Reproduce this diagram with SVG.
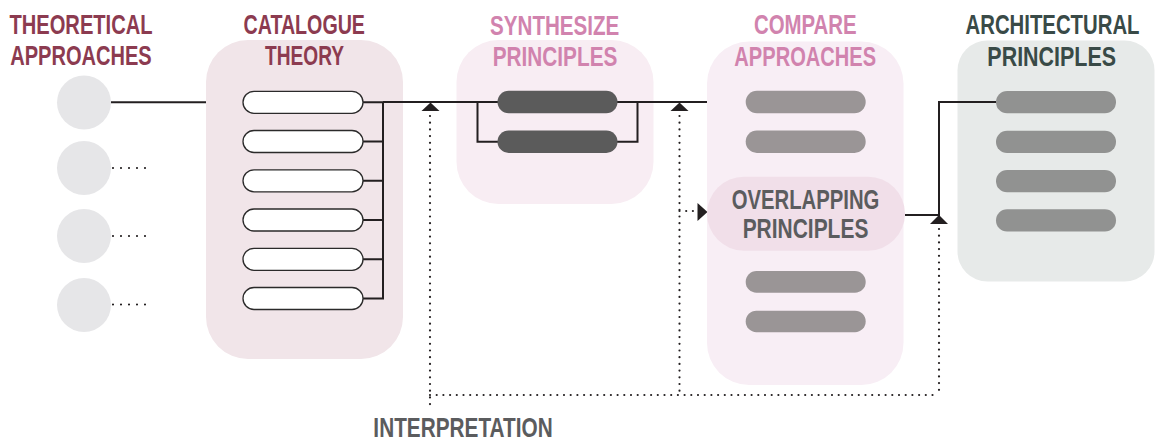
<svg xmlns="http://www.w3.org/2000/svg" width="1155" height="441" viewBox="0 0 1155 441">
  <style>
    .t { font-family: "Liberation Sans", Arial, sans-serif; font-weight: bold; font-size: 28px; text-anchor: middle; }
    .maroon { fill: #8c3b50; }
    .pink { fill: #d183ae; }
    .slate { fill: #394a47; }
    .grey { fill: #5b5c5e; }
    .src { fill: #e6e6e8; }
    .cat { fill: #ffffff; stroke: #2b2a2a; stroke-width: 1.3; }
    .syn { fill: #5b5b5b; }
    .cmp { fill: #9a9596; }
    .arc { fill: #919291; }
    .wire { fill: none; stroke: #231f20; stroke-width: 2; }
    .dots { fill: none; stroke: #231f20; stroke-width: 2.2; stroke-linecap: round; stroke-dasharray: 0 6.7; }
    .dots2 { fill: none; stroke: #231f20; stroke-width: 2.2; stroke-linecap: round; stroke-dasharray: 0 8; }
    .head { fill: #231f20; }
  </style>

  <!-- column backgrounds -->
  <rect id="catalogue-bg" x="206" y="40" width="197" height="319" rx="42" fill="#f1e5e9"/>
  <rect id="synthesize-bg" x="456.5" y="40" width="197" height="164" rx="42" fill="#f8edf3"/>
  <rect id="compare-bg" x="707" y="41.5" width="196.5" height="343.5" rx="42" fill="#f8eef5"/>
  <rect id="architectural-bg" x="957.5" y="40.5" width="197" height="241" rx="30" fill="#e7eae9"/>

  <!-- column headings: condensed by a horizontal scale of 0.73 -->
  <g id="heading-theoretical">
    <text class="t maroon" transform="translate(81 33.5) scale(0.73 1)" textLength="195.9" lengthAdjust="spacingAndGlyphs">THEORETICAL</text>
    <text class="t maroon" transform="translate(81 65) scale(0.73 1)" textLength="193.8" lengthAdjust="spacingAndGlyphs">APPROACHES</text>
  </g>
  <g id="heading-catalogue">
    <text class="t maroon" transform="translate(304.2 33.5) scale(0.73 1)" textLength="166.4" lengthAdjust="spacingAndGlyphs">CATALOGUE</text>
    <text class="t maroon" transform="translate(304.5 65) scale(0.73 1)" textLength="108.2" lengthAdjust="spacingAndGlyphs">THEORY</text>
  </g>
  <g id="heading-synthesize">
    <text class="t pink" transform="translate(554.7 34.5) scale(0.73 1)" textLength="177.1" lengthAdjust="spacingAndGlyphs">SYNTHESIZE</text>
    <text class="t pink" transform="translate(555 66) scale(0.73 1)" textLength="170.8" lengthAdjust="spacingAndGlyphs">PRINCIPLES</text>
  </g>
  <g id="heading-compare">
    <text class="t pink" transform="translate(805.3 34.3) scale(0.73 1)" textLength="140.7" lengthAdjust="spacingAndGlyphs">COMPARE</text>
    <text class="t pink" transform="translate(805.2 65.7) scale(0.73 1)" textLength="194.1" lengthAdjust="spacingAndGlyphs">APPROACHES</text>
  </g>
  <g id="heading-architectural">
    <text class="t slate" transform="translate(1052.5 34.3) scale(0.73 1)" textLength="238.4" lengthAdjust="spacingAndGlyphs">ARCHITECTURAL</text>
    <text class="t slate" transform="translate(1051.7 65.7) scale(0.73 1)" textLength="176.3" lengthAdjust="spacingAndGlyphs">PRINCIPLES</text>
  </g>

  <!-- connectors -->
  <g id="connectors">
    <!-- approach 1 into catalogue -->
    <line class="wire" x1="111" y1="102.3" x2="206" y2="102.3"/>
    <!-- other approaches (dotted) -->
    <line class="dots2" x1="113" y1="168" x2="153" y2="168"/>
    <line class="dots2" x1="113" y1="236" x2="153" y2="236"/>
    <line class="dots2" x1="113" y1="304.5" x2="153" y2="304.5"/>
    <!-- catalogue bus -->
    <path class="wire" d="M363 102.3 H383 M383 102.3 V298.5 M363 141.5 H383 M363 180.8 H383 M363 220 H383 M363 259.3 H383 M363 298.5 H384"/>
    <!-- main line into compare -->
    <line class="wire" x1="383" y1="102" x2="707" y2="102"/>
    <!-- synthesize bracket -->
    <path class="wire" d="M477.5 102 V141.7 H498 M617 141.7 H637.5 V102"/>
    <!-- overlapping into architectural -->
    <path class="wire" d="M905 215 H939 V102 H996"/>
    <!-- interpretation feedback loop -->
    <line class="dots" x1="430" y1="116" x2="430" y2="408"/>
    <line class="dots" x1="679.5" y1="116" x2="679.5" y2="395"/>
    <line class="dots" x1="939" y1="229" x2="939" y2="395"/>
    <line class="dots" x1="430" y1="395" x2="939" y2="395"/>
    <line class="dots" x1="679.5" y1="211" x2="693" y2="211"/>
    <!-- arrowheads -->
    <polygon class="head" points="421.5,111 439.5,111 430.5,102.5"/>
    <polygon class="head" points="670.5,111 688.5,111 679.5,102.5"/>
    <polygon class="head" points="930,224 948,224 939,215"/>
    <polygon class="head" points="697.5,203 697.5,221 707.5,212"/>
  </g>

  <!-- theoretical approaches -->
  <g id="approach-1"><circle class="src" cx="84" cy="102.5" r="27"/></g>
  <g id="approach-2"><circle class="src" cx="84" cy="168" r="27"/></g>
  <g id="approach-3"><circle class="src" cx="84" cy="236" r="27"/></g>
  <g id="approach-4"><circle class="src" cx="84" cy="305" r="27"/></g>

  <!-- catalogue entries -->
  <g id="catalogue-1"><rect class="cat" x="243" y="91.3" width="120" height="22" rx="11"/></g>
  <g id="catalogue-2"><rect class="cat" x="243" y="130.5" width="120" height="22" rx="11"/></g>
  <g id="catalogue-3"><rect class="cat" x="243" y="169.8" width="120" height="22" rx="11"/></g>
  <g id="catalogue-4"><rect class="cat" x="243" y="209" width="120" height="22" rx="11"/></g>
  <g id="catalogue-5"><rect class="cat" x="243" y="248.3" width="120" height="22" rx="11"/></g>
  <g id="catalogue-6"><rect class="cat" x="243" y="287.5" width="120" height="22" rx="11"/></g>

  <!-- synthesized principles -->
  <g id="synthesize-1"><rect class="syn" x="497.5" y="90.7" width="120" height="22.6" rx="11.3"/></g>
  <g id="synthesize-2"><rect class="syn" x="497.5" y="130.5" width="120" height="22.4" rx="11.2"/></g>

  <!-- compared approaches -->
  <g id="compare-1"><rect class="cmp" x="745.7" y="90.7" width="120" height="22.6" rx="11.3"/></g>
  <g id="compare-2"><rect class="cmp" x="745.7" y="130.5" width="120" height="22.4" rx="11.2"/></g>
  <g id="overlapping">
    <rect x="707" y="176.7" width="198" height="74" rx="37" fill="#f1dfe9"/>
    <text class="t grey" font-size="22.5" transform="translate(805.5 0) scale(0.73 1)"><tspan x="0" y="209.5" textLength="202.3" lengthAdjust="spacingAndGlyphs">OVERLAPPING</tspan><tspan x="0" y="237.8" textLength="172.2" lengthAdjust="spacingAndGlyphs">PRINCIPLES</tspan></text>
  </g>
  <g id="compare-3"><rect class="cmp" x="745.7" y="271" width="120" height="21.7" rx="10.8"/></g>
  <g id="compare-4"><rect class="cmp" x="745.7" y="310.7" width="120" height="21.5" rx="10.7"/></g>

  <!-- architectural principles -->
  <g id="principle-1"><rect class="arc" x="996" y="91" width="120" height="22.3" rx="11.1"/></g>
  <g id="principle-2"><rect class="arc" x="996" y="130.7" width="120" height="22.3" rx="11.1"/></g>
  <g id="principle-3"><rect class="arc" x="996" y="170" width="120" height="22.3" rx="11.1"/></g>
  <g id="principle-4"><rect class="arc" x="996" y="209.3" width="120" height="22.3" rx="11.1"/></g>

  <g id="interpretation">
    <text class="t grey" font-size="24.5" transform="translate(463 436.5) scale(0.73 1)" textLength="245.6" lengthAdjust="spacingAndGlyphs">INTERPRETATION</text>
  </g>
</svg>
